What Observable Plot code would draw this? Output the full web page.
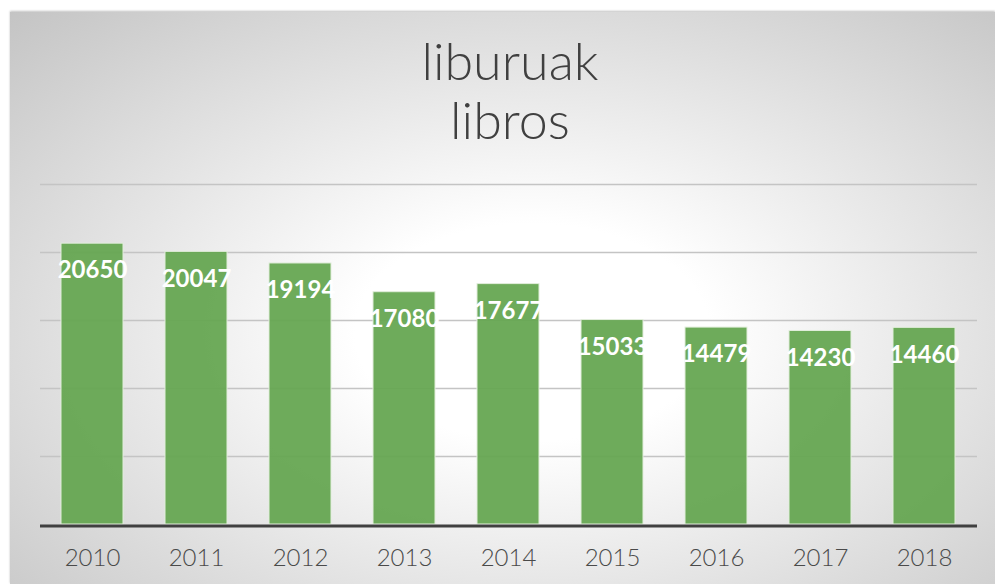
<!DOCTYPE html>
<html>
<head>
<meta charset="utf-8">
<script src="https://cdn.jsdelivr.net/npm/d3@7"></script>
<script src="https://cdn.jsdelivr.net/npm/@observablehq/plot@0.6"></script>
<style>
  html, body { margin: 0; padding: 0; background: #ffffff; width: 995px; height: 584px; overflow: hidden; }
  #frame {
    position: absolute; left: 10px; top: 12px; width: 985px; height: 572px;
    background: radial-gradient(ellipse farthest-corner at 53% 56%, #ffffff 0%, #ffffff 24%, #c4c4c4 100%);
    box-shadow: 0 -1px 2px rgba(0,0,0,0.25);
  }
  #title {
    position: absolute; left: 0; top: 31px; width: 1020px; text-align: center;
    font-family: Lato, sans-serif; font-weight: 300; font-size: 52px; line-height: 59px; color: #404040;
  }
  #chart { position: absolute; left: 0; top: 160px; }
</style>
</head>
<body>
<div id="frame"></div>
<div id="title"><div>liburuak</div><div>libros</div></div>
<div id="chart"></div>
<script>
const years = ["2010","2011","2012","2013","2014","2015","2016","2017","2018"];
const values = [20650, 20047, 19194, 17080, 17677, 15033, 14479, 14230, 14460];
const gridTicks = [5000, 10000, 15000, 20000, 25000];

const data = years.map((year, i) => ({year, value: values[i]}));

const plot = Plot.plot({
  width: 995,
  height: 424,
  marginLeft: 40,
  marginRight: 18,
  marginTop: 24,
  marginBottom: 60,
  style: {fontFamily: "Lato, sans-serif", background: "transparent", color: "#4a4a4a", overflow: "visible"},
  x: {domain: years, paddingInner: 0.4, paddingOuter: 0.2, label: null},
  y: {domain: [0, 25000], axis: null},
  marks: [
    Plot.ruleY(gridTicks, {stroke: "#c4c4c4", strokeWidth: 1.5}),
    Plot.barY(data, {x: "year", y: "value", fill: "#65a651", fillOpacity: 0.94, stroke: "#e2eedc", strokeWidth: 1}),
    Plot.ruleY([0], {stroke: "#404040", strokeWidth: 3, dy: 1.5}),
    Plot.text(data, {x: "year", y: "value", text: d => String(d.value), dy: 27, fill: "white", fontWeight: "bold", fontSize: 24}),
    Plot.axisX({tickSize: 0, tickPadding: 24, fontSize: 24, fontWeight: 300, fill: "#4a4a4a", label: null})
  ]
});
document.getElementById("chart").appendChild(plot);
</script>
</body>
</html>
